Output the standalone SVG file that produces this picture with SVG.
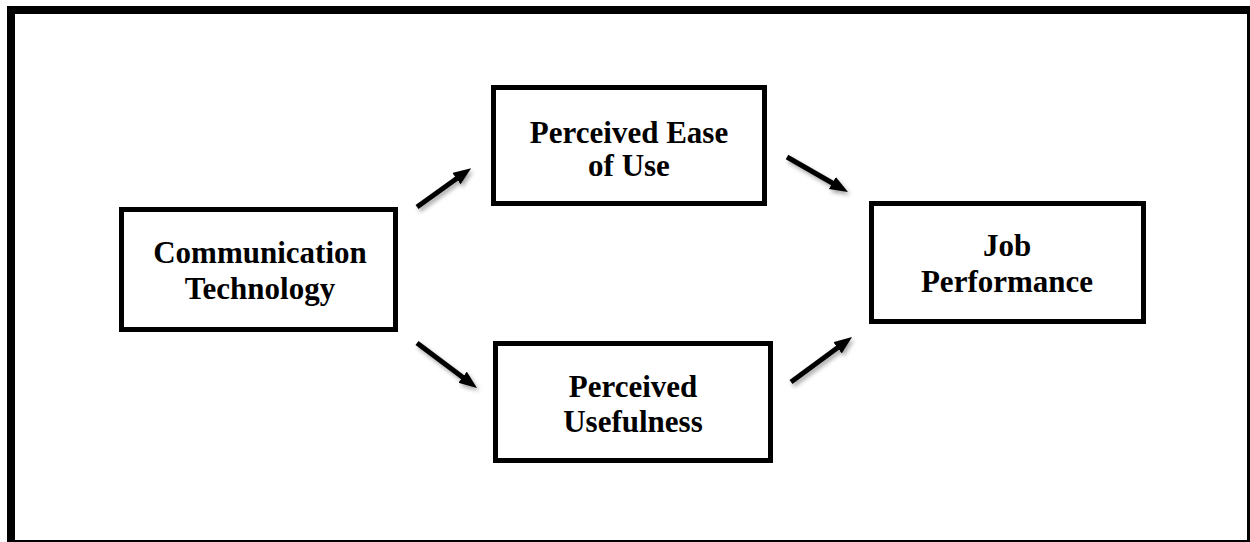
<svg xmlns="http://www.w3.org/2000/svg" width="1250" height="542" viewBox="0 0 1250 542">
  <style>
    .box { fill: #ffffff; stroke: #000000; stroke-width: 5; }
    .label { font-family: "Liberation Serif", "Times New Roman", serif; font-weight: bold; font-size: 31px; fill: #000000; text-anchor: middle; }
    .conn { stroke: #000000; stroke-width: 5; fill: none; marker-end: url(#arrow); }
  </style>
  <defs>
    <marker id="arrow" markerUnits="userSpaceOnUse" markerWidth="20" markerHeight="16" refX="8" refY="7" orient="auto">
      <path d="M0,0 L18,7 L0,14 z" fill="#000000"/>
    </marker>
    <filter id="shadow" x="-30%" y="-30%" width="160%" height="160%">
      <feDropShadow dx="2" dy="3" stdDeviation="2" flood-color="#000000" flood-opacity="0.35"/>
    </filter>
  </defs>
  <rect x="0" y="0" width="1250" height="542" fill="#ffffff"/>
  <rect x="11" y="10" width="1240" height="534" fill="none" stroke="#000000" stroke-width="8"/>

  <g id="connectors" filter="url(#shadow)">
    <line class="conn" x1="417" y1="207" x2="463" y2="174"/>
    <line class="conn" x1="787" y1="157" x2="839.3" y2="187"/>
    <line class="conn" x1="417" y1="343" x2="469" y2="382"/>
    <line class="conn" x1="791" y1="382" x2="844" y2="343"/>
  </g>

  <g id="communication-technology">
    <rect class="box" x="121.5" y="209.5" width="274" height="120"/>
    <text class="label" x="260" y="263">Communication</text>
    <text class="label" x="260" y="299">Technology</text>
  </g>

  <g id="perceived-ease-of-use">
    <rect class="box" x="493.5" y="87.5" width="271" height="116"/>
    <text class="label" x="629" y="143">Perceived Ease</text>
    <text class="label" x="629" y="176">of Use</text>
  </g>

  <g id="perceived-usefulness">
    <rect class="box" x="495.5" y="343.5" width="275" height="117"/>
    <text class="label" x="633" y="397">Perceived</text>
    <text class="label" x="633" y="432">Usefulness</text>
  </g>

  <g id="job-performance">
    <rect class="box" x="871.5" y="203.5" width="272" height="118"/>
    <text class="label" x="1007" y="256">Job</text>
    <text class="label" x="1007" y="292">Performance</text>
  </g>
</svg>
